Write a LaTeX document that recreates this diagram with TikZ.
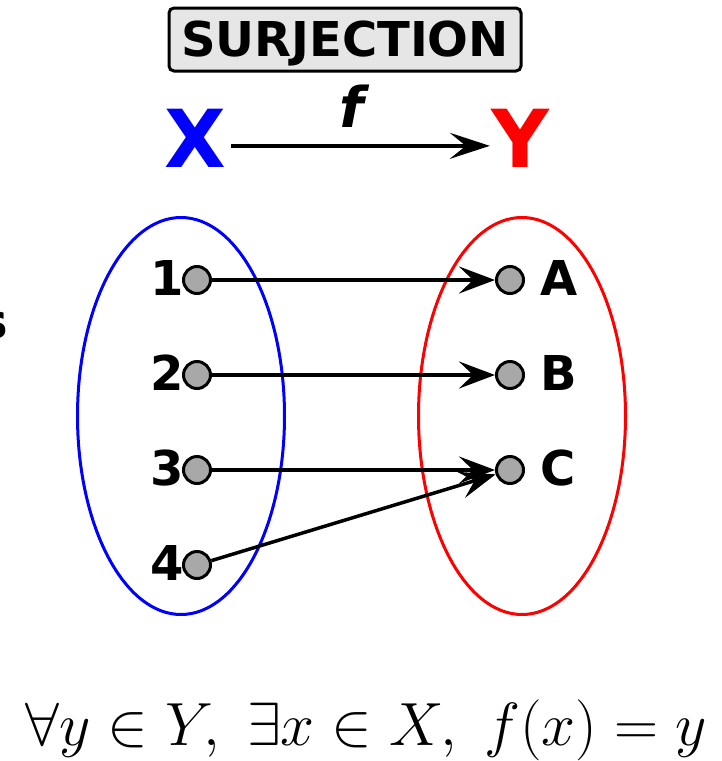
\documentclass[tikz,border=0pt]{standalone}
\usepackage{fix-cm}
\usepackage[no-math]{fontspec}
\setmainfont{DejaVu Sans}
\usetikzlibrary{arrows.meta,shapes.geometric}
\definecolor{dotgray}{RGB}{168,168,168}
\definecolor{boxgray}{RGB}{230,230,230}
\definecolor{setblue}{RGB}{0,0,255}
\definecolor{setred}{RGB}{255,0,0}
\begin{document}
\begin{tikzpicture}[x=1pt,y=-1pt,
  dotnode/.style={circle, draw=black, fill=dotgray, line width=3pt, minimum size=27pt, inner sep=0pt},
  lbl/.style={inner sep=0pt, font=\bfseries\fontsize{48}{50}\selectfont},
  setell/.style={ellipse, line width=3pt, minimum width=207pt, minimum height=397pt, inner sep=0pt},
  maparrow/.style={line width=3.5pt, -{Stealth[length=36pt,width=27pt,inset=14pt]}},
  toparrow/.style={line width=3.5pt, -{Stealth[length=40pt,width=26pt,inset=16pt]}},
  bigletter/.style={inner sep=0pt, anchor=base, font=\bfseries\fontsize{80}{82}\selectfont}
]
\useasboundingbox (0,0) rectangle (722,761);

% title box
\node[draw=black, fill=boxgray, line width=3pt, rounded corners=5pt,
      minimum width=352pt, minimum height=63pt, inner sep=0pt,
      text height=34pt, text depth=0pt,
      font=\bfseries\fontsize{48}{50}\selectfont] (title) at (345,39.5) {SURJECTION};

% X -> Y
\node[bigletter, text=setblue] (Xl) at (195,167) {X};
\node[bigletter, text=setred] (Yl) at (520,167) {Y};
\node[inner sep=0pt, anchor=base, font=\bfseries\itshape\fontsize{56}{58}\selectfont] (fl) at (352,127) {f};
\draw[toparrow] ([xshift=5pt,yshift=-8pt]Xl.east) -- ([xshift=-1pt,yshift=-8pt]Yl.west);

% sets
\node[setell, draw=setblue] (setX) at (181,416) {};
\node[setell, draw=setred] (setY) at (522,416) {};

% domain points
\node[dotnode] (d1) at (197,280) {};
\node[dotnode] (d2) at (197,375) {};
\node[dotnode] (d3) at (197,470) {};
\node[dotnode] (d4) at (197,565) {};
\node[lbl, anchor=base east] (n1) at (184,295) {1};
\node[lbl, anchor=base east] (n2) at (184,390) {2};
\node[lbl, anchor=base east] (n3) at (184,485) {3};
\node[lbl, anchor=base east] (n4) at (184,580) {4};

% codomain points
\node[dotnode] (dA) at (510,280) {};
\node[dotnode] (dB) at (510,375) {};
\node[dotnode] (dC) at (510,470) {};
\node[lbl, anchor=base west] (nA) at (540,295) {A};
\node[lbl, anchor=base west] (nB) at (540,390) {B};
\node[lbl, anchor=base west] (nC) at (540,485) {C};

% mapping
\draw[maparrow] (d1) -- (dA);
\draw[maparrow] (d2) -- (dB);
\draw[maparrow] (d3) -- (dC);
\draw[maparrow] (d4) -- (dC);

% fragment at left edge
\node[lbl, anchor=base east] (frag) at (8,338) {s};

% formula
\node[inner sep=0pt, anchor=base, font=\fontsize{61}{64}\selectfont] (formula) at (366,745)
  {$\forall y\in Y,\;\exists x\in X,\;f(x)=y$};
\end{tikzpicture}
\end{document}
